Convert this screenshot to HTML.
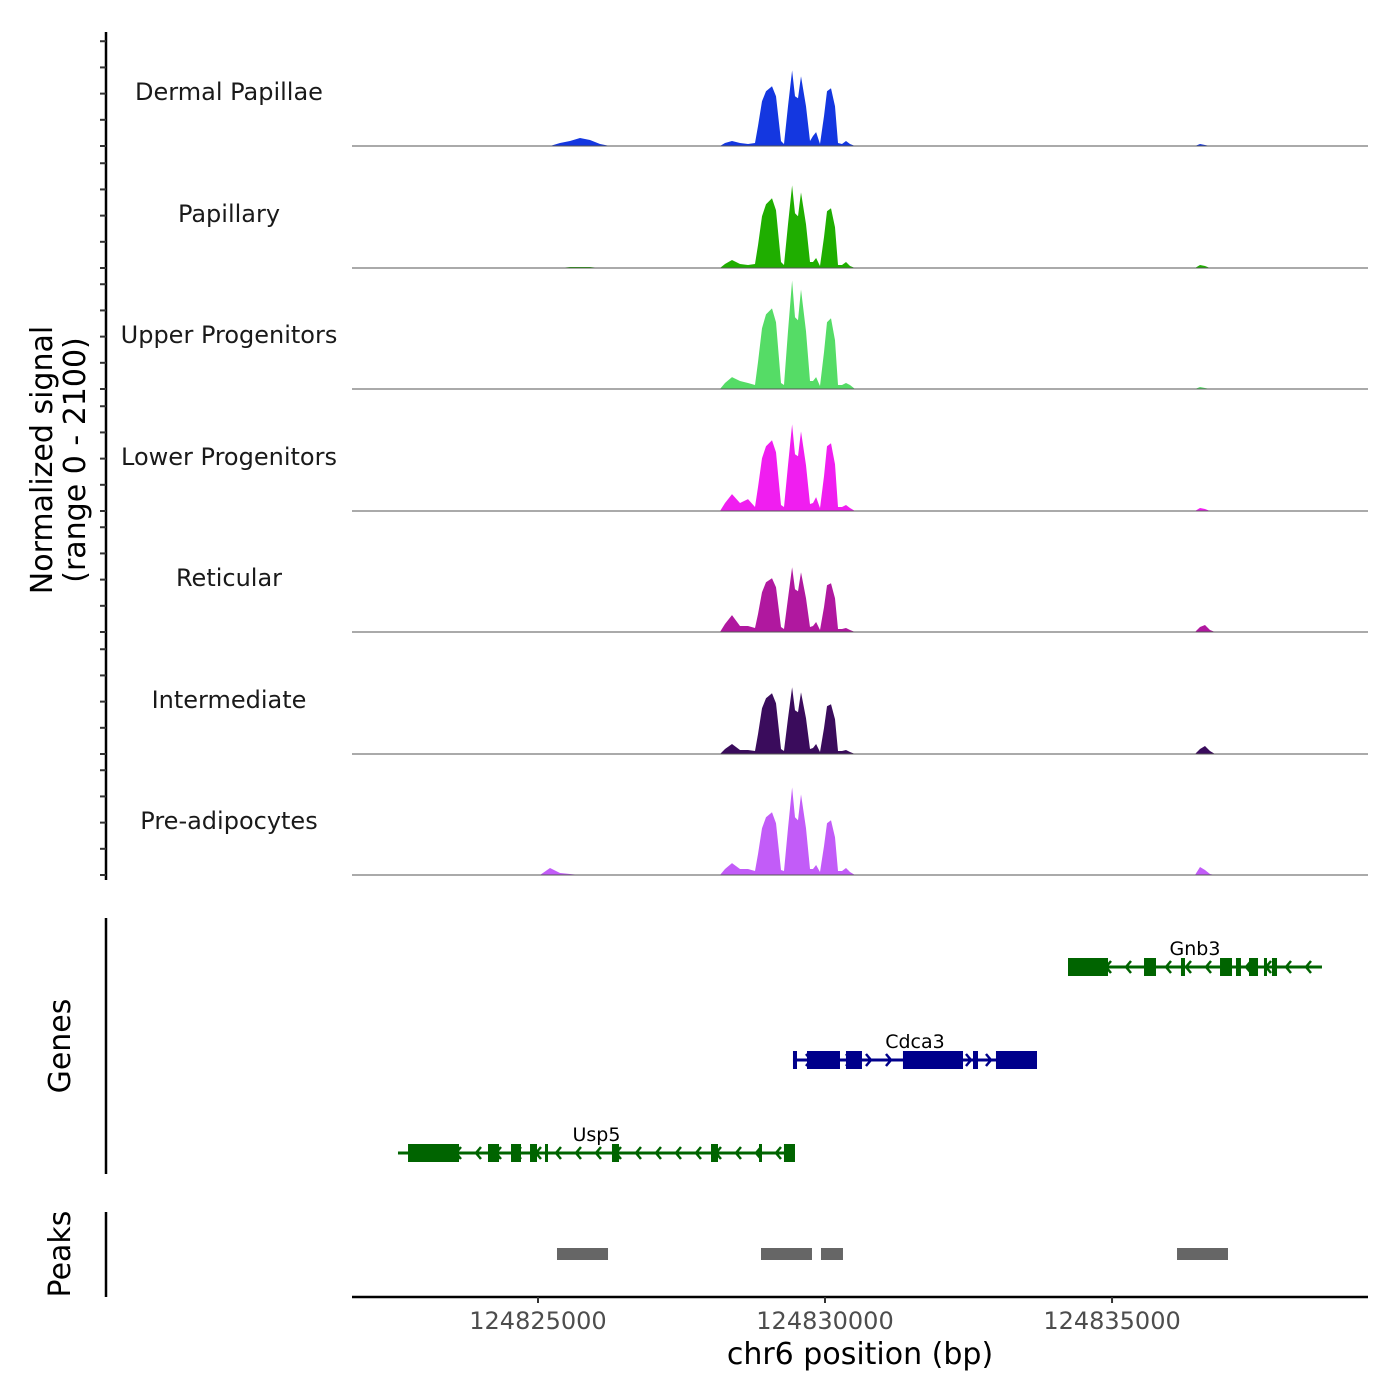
<!DOCTYPE html>
<html><head><meta charset="utf-8"><style>
html,body{margin:0;padding:0;background:#fff}
svg{display:block;font-family:"DejaVu Sans","Liberation Sans",sans-serif}
</style></head><body>
<svg id="c" width="1400" height="1400" xmlns="http://www.w3.org/2000/svg"></svg>
<script>
const positions=[124821760,124825035,124825209,124825384,124825558,124825732,124825906,124826081,124826255,124828171,124828258,124828380,124828519,124828659,124828780,124828833,124828903,124828972,124829077,124829147,124829234,124829286,124829356,124829426,124829478,124829530,124829582,124829669,124829739,124829791,124829844,124829913,124829983,124830035,124830104,124830174,124830227,124830296,124830366,124830436,124830523,124830645,124836445,124836532,124836619,124836706,124836793,124839459];
const trackNames=["Dermal Papillae","Papillary","Upper Progenitors","Lower Progenitors","Reticular","Intermediate","Pre-adipocytes"];
const trackColors=["#1437e0","#1fae00","#55dc66","#f01ef0","#b0189f","#3a0c5c","#c25cf8"];
const dermalPapillae=[0,0,0,57,95,152,114,38,0,0,57,95,57,38,57,380,855,1045,1140,950,95,38,760,1444,950,912,1330,760,95,190,266,38,570,1045,1102,760,57,38,95,38,0,0,0,38,19,0,0,0];
const papillary=[0,0,0,0,19,19,19,0,0,0,76,152,76,57,76,437,988,1216,1330,1102,114,57,836,1577,1045,988,1444,836,114,114,190,38,589,1083,1140,779,57,57,114,38,0,0,0,57,38,0,0,0];
const upperProgenitors=[0,0,0,0,0,0,0,0,0,0,114,228,152,114,76,513,1159,1425,1539,1273,114,76,1102,2071,1368,1311,1900,1102,152,152,228,57,703,1273,1349,931,76,76,114,76,0,0,0,38,19,0,0,0];
const lowerProgenitors=[0,0,0,0,0,0,0,0,0,0,152,323,152,228,76,456,1007,1235,1349,1121,114,76,874,1653,1083,1045,1520,874,133,152,266,57,665,1235,1292,893,76,76,114,57,0,0,0,57,38,0,0,0];
const reticular=[0,0,0,0,0,0,0,0,0,0,152,323,114,114,76,342,760,950,1026,855,95,57,646,1235,817,779,1140,646,95,114,190,38,475,893,931,646,57,57,76,38,0,0,0,95,133,38,0,0];
const intermediate=[0,0,0,0,0,0,0,0,0,0,95,190,76,76,57,380,874,1064,1159,969,95,57,684,1273,836,798,1178,684,95,114,190,38,494,912,950,665,57,57,76,38,0,0,0,95,152,57,0,0];
const preAdipocytes=[0,0,133,38,19,0,0,0,0,0,114,228,114,114,76,399,893,1102,1197,988,95,76,893,1672,1102,1045,1539,893,114,114,190,57,551,988,1045,722,76,76,133,57,0,0,0,152,95,19,0,0];
const xTicks=[124825000,124830000,124835000];
const xTickLabels=["124825000","124830000","124835000"];
const yTicks=[0,500,1000,1500,2000];
const geneNames=["Gnb3","Cdca3","Usp5"];
const geneStrands=["-","+","-"];
const geneStarts=[124834233,124829442,124822561];
const geneEnds=[124838657,124833693,124829477];
const gnb3Exons=[[124834233,124834930],[124835557,124835766],[124836201,124836271],[124836881,124837090],[124837159,124837246],[124837386,124837543],[124837647,124837699],[124837786,124837874]];
const cdca3Exons=[[124829442,124829512],[124829686,124830261],[124830365,124830644],[124831358,124832404],[124832578,124832665],[124832978,124833693]];
const usp5Exons=[[124822736,124823624],[124824129,124824321],[124824530,124824704],[124824861,124824983],[124825122,124825174],[124826289,124826411],[124828014,124828136],[124828850,124828885],[124829285,124829477]];
const peakStarts=[124825331,124828885,124829930,124836132];
const peakEnds=[124826220,124829773,124830313,124837020];

const NS="http://www.w3.org/2000/svg";
const svg=document.getElementById('c');
function mk(t,a,p){const e=document.createElementNS(NS,t);for(const k in a)e.setAttribute(k,a[k]);(p||svg).appendChild(e);return e;}
const X0=352,X1=1368,BP0=124821760,BP1=124839459;
const xs=v=>X0+(v-BP0)/(BP1-BP0)*(X1-X0);
const trackBase=[146,268,389,511,632,754,875];
const ys=(v,i)=>trackBase[i]-v/2100*110;
const series=[dermalPapillae,papillary,upperProgenitors,lowerProgenitors,reticular,intermediate,preAdipocytes];
const keys=["dermal-papillae","papillary","upper-progenitors","lower-progenitors","reticular","intermediate","pre-adipocytes"];

let ax=mk('line',{x1:106,y1:32,x2:106,y2:880,stroke:'#000','stroke-width':2.5});

series.forEach((s,i)=>{
  yTicks.forEach(t=>{const y=ys(t,i);const l=mk('line',{x1:100,y1:y,x2:106,y2:y,stroke:'#333','stroke-width':2});
    });
  const g=mk('g',{});
  
  let d='M'+xs(positions[0])+','+trackBase[i];
  positions.forEach((p,j)=>{d+=' L'+xs(p).toFixed(1)+','+ys(s[j],i).toFixed(1);});
  d+=' L'+xs(positions[positions.length-1])+','+trackBase[i]+' Z';
  const a=mk('path',{d:d,fill:trackColors[i]},g);
  
  const b=mk('line',{x1:X0,y1:trackBase[i],x2:X1,y2:trackBase[i],stroke:'#555','stroke-width':1},g);
  
  const t=mk('text',{x:229,y:trackBase[i]-46,'text-anchor':'middle','font-size':24,fill:'#1a1a1a'},g);
  t.textContent=trackNames[i];
  
});
let yt=mk('text',{transform:'translate(52,460) rotate(-90)','text-anchor':'middle','font-size':30});
yt.textContent='Normalized signal';
let yt2=mk('text',{transform:'translate(85,460) rotate(-90)','text-anchor':'middle','font-size':30});
yt2.textContent='(range 0 - 2100)';

let ga=mk('line',{x1:106,y1:918,x2:106,y2:1174,stroke:'#000','stroke-width':2.5});

let gt=mk('text',{transform:'translate(70,1046) rotate(-90)','text-anchor':'middle','font-size':30});
gt.textContent='Genes';
const geneY=[967,1060,1153];const geneCol=["#006400","#00008b","#006400"];
const exonSets=[gnb3Exons,cdca3Exons,usp5Exons];
geneNames.forEach((n,i)=>{
  const g=mk('g',{});
  
  const y=geneY[i],c=geneCol[i],x1=xs(geneStarts[i]),x2=xs(geneEnds[i]);
  mk('line',{x1:x1,y1:y,x2:x2,y2:y,stroke:c,'stroke-width':3},g);
  const dir=geneStrands[i]==='-'?-1:1;
  for(let x=x1+18;x<x2-8;x+=20){
    mk('polyline',{points:(x-dir*5)+','+(y-6)+' '+x+','+y+' '+(x-dir*5)+','+(y+6),fill:'none',stroke:c,'stroke-width':2.5},g);
  }
  exonSets[i].forEach(e=>{const r=mk('rect',{x:xs(e[0]),y:y-9,width:Math.max(3,xs(e[1])-xs(e[0])),height:18,fill:c},g);
    });
  const t=mk('text',{x:(x1+x2)/2,y:y-12,'text-anchor':'middle','font-size':19,fill:'#000'},g);
  t.textContent=n;
});

let pa=mk('line',{x1:106,y1:1212,x2:106,y2:1297,stroke:'#000','stroke-width':2.5});

let pt=mk('text',{transform:'translate(70,1254) rotate(-90)','text-anchor':'middle','font-size':30});
pt.textContent='Peaks';
peakStarts.forEach((s,i)=>{const r=mk('rect',{x:xs(s),y:1248,width:xs(peakEnds[i])-xs(s),height:12,fill:'#666'});
  });

let xa=mk('line',{x1:X0,y1:1297,x2:X1,y2:1297,stroke:'#000','stroke-width':2.5});

xTicks.forEach((t,i)=>{const x=xs(t);
  const l=mk('line',{x1:x,y1:1297,x2:x,y2:1303,stroke:'#333','stroke-width':2});
  
  const tx=mk('text',{x:x,y:1329,'text-anchor':'middle','font-size':24,fill:'#4d4d4d'});
  tx.textContent=xTickLabels[i];});
let xt=mk('text',{x:860,y:1364,'text-anchor':'middle','font-size':30});
xt.textContent='chr6 position (bp)';
</script>
</body></html>
